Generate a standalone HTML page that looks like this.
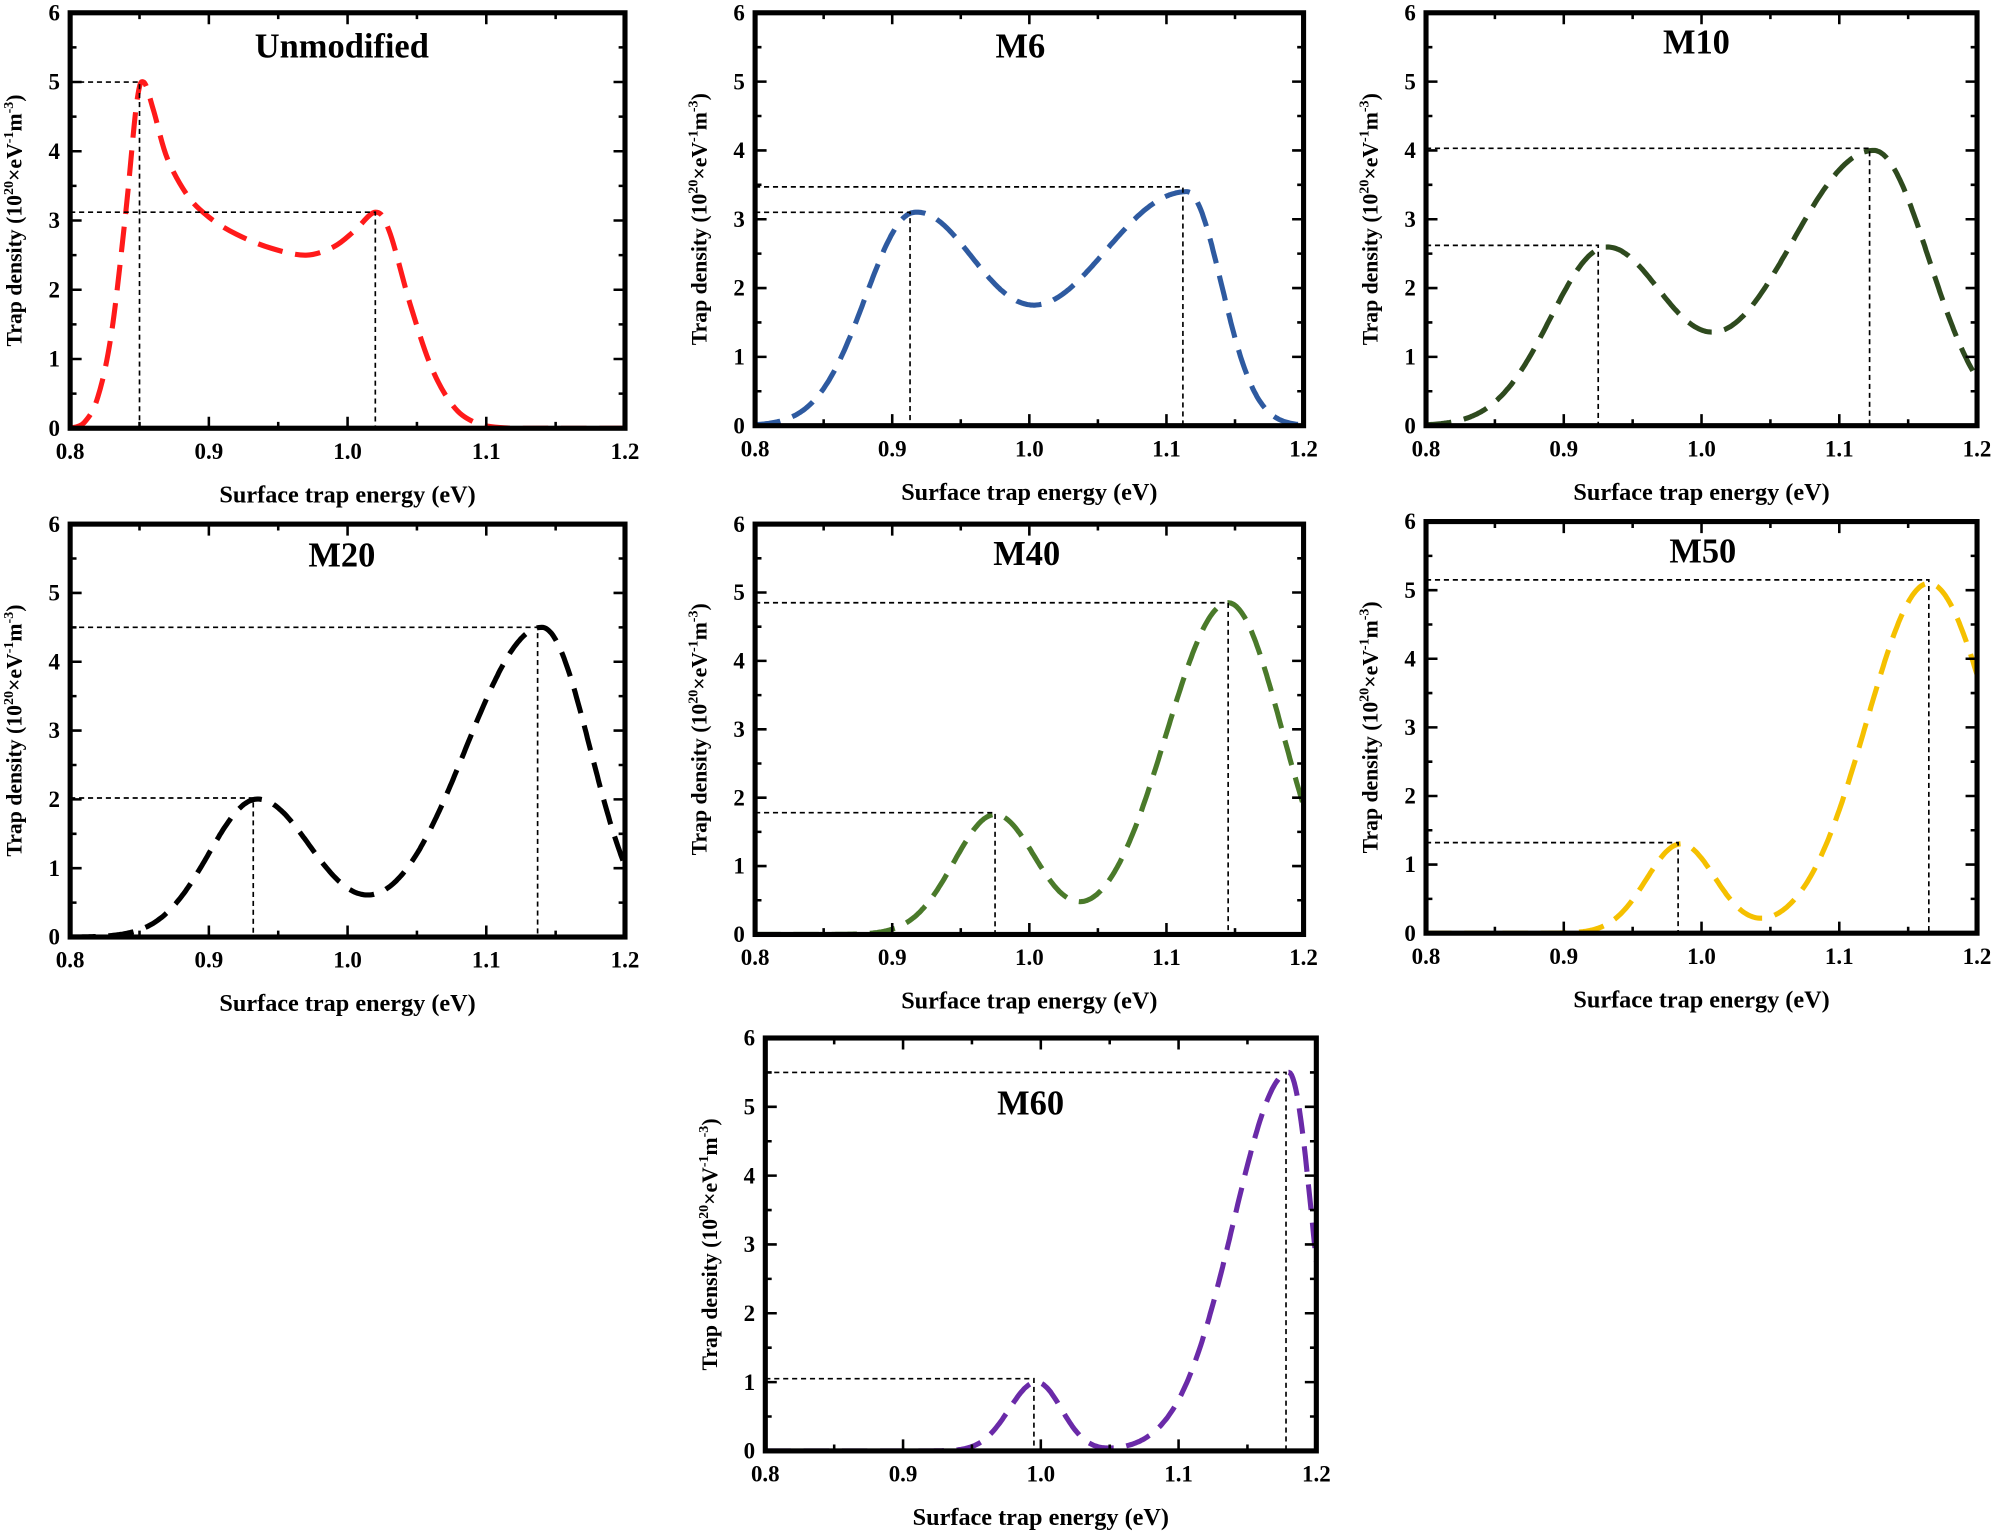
<!DOCTYPE html>
<html><head><meta charset="utf-8">
<style>
html,body{margin:0;padding:0;background:#fff;}
svg{display:block;}
text{font-family:"Liberation Serif",serif;font-weight:bold;fill:#000;}
</style></head>
<body>
<svg id="s" width="2000" height="1534" viewBox="0 0 1568 1200" preserveAspectRatio="none" xmlns="http://www.w3.org/2000/svg"></svg>
<script>
const NS="http://www.w3.org/2000/svg";
const svg=document.getElementById('s');
function el(t,a,txt){const e=document.createElementNS(NS,t);for(const k in a)e.setAttribute(k,a[k]);if(txt!==undefined)e.textContent=txt;svg.appendChild(e);return e;}
const XL=["0.8","0.9","1.0","1.1","1.2"], YL=["0","1","2","3","4","5","6"];
function G(x,c,a,l,r){const s=x<c?l:r;return a*Math.exp(-Math.pow((x-c)/s,2)/2);}
const panels=[
 {x0:55,x1:490,y0:10,y1:335,title:"Unmodified",tx:268,ty:45,col:"#ff1a1a",
  pts:[[0.8,0],[0.81,0.08],[0.82,0.45],[0.83,1.4],[0.84,3.1],[0.848,4.7],[0.853,5.0],[0.86,4.6],[0.87,3.9],[0.885,3.35],[0.9,3.05],[0.92,2.8],[0.945,2.6],[0.97,2.5],[0.99,2.62],[1.005,2.85],[1.02,3.12],[1.03,2.85],[1.045,1.8],[1.06,0.9],[1.075,0.35],[1.09,0.1],[1.11,0.01],[1.15,0],[1.2,0]],
  pk:[[0.85,5.0],[1.02,3.12]]},
 {x0:592,x1:1022,y0:10,y1:333,title:"M6",tx:800,ty:45,col:"#2e5aa0",
  g:[[0.915,3.0,0.035,0.05],[1.115,3.4,0.075,0.025]],pk:[[0.913,3.1],[1.112,3.47]]},
 {x0:1118,x1:1550,y0:10,y1:333,title:"M10",tx:1330,ty:42,col:"#2e4a1e",
  g:[[0.93,2.55,0.04,0.045],[1.125,4.0,0.065,0.04]],pk:[[0.925,2.62],[1.122,4.03]]},
 {x0:55,x1:490,y0:410,y1:733,title:"M20",tx:268,ty:443,col:"#000000",
  g:[[0.935,2.0,0.035,0.04],[1.14,4.5,0.055,0.035]],pk:[[0.932,2.02],[1.137,4.5]]},
 {x0:592,x1:1022,y0:410,y1:731,title:"M40",tx:805,ty:442,col:"#4a7a2a",
  g:[[0.975,1.75,0.03,0.03],[1.145,4.85,0.045,0.04]],pk:[[0.975,1.78],[1.145,4.85]]},
 {x0:1118,x1:1550,y0:408,y1:730,title:"M50",tx:1335,ty:440,col:"#f5c000",
  g:[[0.985,1.3,0.025,0.025],[1.165,5.1,0.045,0.045]],pk:[[0.983,1.32],[1.165,5.15]]},
 {x0:600,x1:1032,y0:812,y1:1135,title:"M60",tx:808,ty:872,col:"#6a2aa8",
  g:[[0.997,1.0,0.02,0.018],[1.18,5.5,0.04,0.017]],pk:[[0.995,1.05],[1.178,5.5]]}
];
function catmull(pts,X,Y){
 let d="M"+X(pts[0][0])+","+Y(pts[0][1]);
 for(let i=0;i<pts.length-1;i++){
  const p0=pts[Math.max(0,i-1)],p1=pts[i],p2=pts[i+1],p3=pts[Math.min(pts.length-1,i+2)];
  const P=(p)=>[X(p[0]),Y(p[1])];
  const a=P(p0),b=P(p1),c=P(p2),e=P(p3);
  const c1=[b[0]+(c[0]-a[0])/6,b[1]+(c[1]-a[1])/6],c2=[c[0]-(e[0]-b[0])/6,c[1]-(e[1]-b[1])/6];
  d+=`C${c1[0].toFixed(1)},${c1[1].toFixed(1)} ${c2[0].toFixed(1)},${c2[1].toFixed(1)} ${c[0].toFixed(1)},${c[1].toFixed(1)}`;
 }
 return d;
}
for(const p of panels){
 const X=v=>p.x0+(v-0.8)/0.4*(p.x1-p.x0), Y=v=>p.y1-v/6*(p.y1-p.y0);
 let d="";
 if(p.pts){d=catmull(p.pts,X,Y);}
 else{
 for(let i=0;i<=400;i++){const x=0.8+0.4*i/400;let y=0;for(const g of p.g)y+=G(x,...g);d+=(i?"L":"M")+X(x).toFixed(1)+","+Y(y).toFixed(1);}
 }
 const cpth=el('clipPath',{id:'c'+p.title});
 const cp=document.createElementNS(NS,'rect');cp.setAttribute('x',p.x0);cp.setAttribute('y',p.y0);cp.setAttribute('width',p.x1-p.x0);cp.setAttribute('height',p.y1-p.y0);cpth.appendChild(cp);
 el('path',{d:d,fill:'none',stroke:p.col,'stroke-width':4,'stroke-dasharray':'20 10','clip-path':'url(#c'+p.title+')'});
 for(const k of p.pk){
  el('path',{d:`M${p.x0},${Y(k[1])}H${X(k[0])}V${p.y1}`,fill:'none',stroke:'#000','stroke-width':1.3,'stroke-dasharray':'4 3'});
 }
 el('rect',{x:p.x0,y:p.y0,width:p.x1-p.x0,height:p.y1-p.y0,fill:'none',stroke:'#000','stroke-width':4});
 for(let i=0;i<=8;i++){const x=X(0.8+0.05*i),L=i%2?5:9;
  el('path',{d:`M${x},${p.y1}v${-L}M${x},${p.y0}v${L}`,stroke:'#000','stroke-width':2});}
 for(let i=0;i<=12;i++){const y=Y(i*0.5),L=i%2?5:9;
  el('path',{d:`M${p.x0},${y}h${L}M${p.x1},${y}h${-L}`,stroke:'#000','stroke-width':2});}
 XL.forEach((t,i)=>el('text',{x:X(0.8+0.1*i),y:p.y1+24,'text-anchor':'middle','font-size':18},t));
 YL.forEach((t,i)=>el('text',{x:p.x0-8,y:Y(i)+6,'text-anchor':'end','font-size':18},t));
 el('text',{x:(p.x0+p.x1)/2,y:p.y1+58,'text-anchor':'middle','font-size':19},"Surface trap energy (eV)");
 const yl=el('text',{x:0,y:0,'text-anchor':'middle','font-size':17,transform:`translate(${p.x0-38},${(p.y0+p.y1)/2}) rotate(-90)`});
 yl.innerHTML='Trap density (10<tspan dy="-7" font-size="11">20</tspan><tspan dy="7">×eV</tspan><tspan dy="-7" font-size="11">-1</tspan><tspan dy="7">m</tspan><tspan dy="-7" font-size="11">-3</tspan><tspan dy="7">)</tspan>';
 el('text',{x:p.tx,y:p.ty,'text-anchor':'middle','font-size':27},p.title);
}
</script>
</body></html>
